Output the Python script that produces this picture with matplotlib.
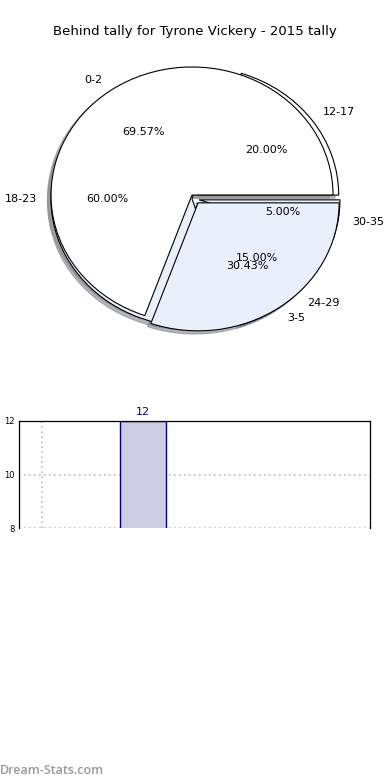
import matplotlib

matplotlib.use("Agg")
import matplotlib.pyplot as plt

# pie 1: young ages, pie 2: older ages (drawn on the same axes)
young_labels = ["0-2", "3-5"]
young_counts = [16, 7]
old_labels = ["12-17", "18-23", "24-29", "30-35"]
old_counts = [4, 12, 3, 1]

bar_labels = ["18-23"]
bar_values = [12]
bar_positions = [1]
y_ticks = [8, 10, 12]

WHITE = "#FFFFFF"
LIGHT = "#E9F0FC"

plt.rcParams.update({"font.family": "DejaVu Sans", "font.size": 8})

W, H = 390, 780
fig = plt.figure(figsize=(W / 100, H / 100), dpi=100)
fig.set_facecolor("white")

fig.text(0.5, 1 - 31 / H, "Behind tally for Tyrone Vickery - 2015 tally",
         ha="center", va="center", fontsize=9.5)

# pie axes: center (192, 195) px, radius 141 x 128 px
cx, cy, rx, ry = 192, 195, 141, 128
ax = fig.add_axes([(cx - rx) / W, 1 - (cy + ry) / H, 2 * rx / W, 2 * ry / H])

wedge_style = {"edgecolor": "black", "linewidth": 0.8}
shadow_style = {"ox": -0.018, "oy": -0.018, "shade": 0.45, "alpha": 0.6}
ax.pie(old_counts, labels=old_labels, autopct="%.2f%%",
       colors=[WHITE, LIGHT, WHITE, LIGHT], explode=[0.05, 0, 0.05, 0.05],
       center=(0, -0.03), shadow=shadow_style, wedgeprops=wedge_style,
       textprops={"fontsize": 8}, frame=False)
ax.pie(young_counts, labels=young_labels, autopct="%.2f%%",
       colors=[WHITE, LIGHT], explode=[0, 0.075],
       shadow=shadow_style, wedgeprops=wedge_style,
       textprops={"fontsize": 8}, frame=False)
ax.set_xlim(-1, 1)
ax.set_ylim(-1, 1)
ax.set_aspect("auto")
ax.axis("off")
for t in ax.texts:
    t.set_clip_on(False)

# bar axes: x 19..370, y 421..528 px
bx0, bx1, by0, by1 = 19, 370, 421, 528
bax = fig.add_axes([bx0 / W, 1 - by1 / H, (bx1 - bx0) / W, (by1 - by0) / H])
bars = bax.bar(bar_positions, bar_values, width=0.45, color="#CCCCE3",
               edgecolor="#000080", linewidth=1.0, zorder=2)
for b, v in zip(bars, bar_values):
    bax.text(b.get_x() + b.get_width() / 2, v + 0.15, str(v), ha="center",
             va="bottom", color="#000080", fontsize=8, clip_on=False)
bax.set_xlim(-0.23, 3.25)
bax.set_ylim(8, 12)
bax.set_yticks(y_ticks)
bax.set_xticks([0, 1])
bax.set_xticklabels([])
bax.tick_params(axis="y", labelsize=6, length=0, pad=3)
bax.tick_params(axis="x", length=0)
bax.grid(True, color="#BBBBBB", linestyle=(0, (1, 2)), linewidth=1.2, zorder=0)
bax.set_axisbelow(True)
bax.spines["bottom"].set_visible(False)
for s in ("left", "top", "right"):
    bax.spines[s].set_linewidth(0.9)

fig.text(0 / W, 1 - 770 / H, "Dream-Stats.com", ha="left", va="center",
         fontsize=9, color="#999999", fontfamily="Open Sans", fontweight="semibold")

fig.savefig("out.png", dpi=100)
